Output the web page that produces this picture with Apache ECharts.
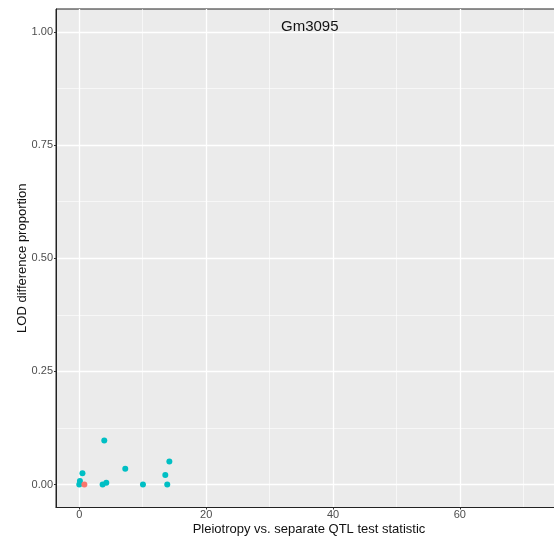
<!DOCTYPE html>
<html>
<head>
<meta charset="utf-8">
<script src="https://cdn.jsdelivr.net/npm/echarts@6/dist/echarts.min.js"></script>
<style>
  html, body { margin: 0; padding: 0; background: #fff; }
  #main { width: 554px; height: 537px; }
</style>
</head>
<body>
<div id="main"></div>
<script>
// points
var cyanX = [3.94, 14.2, 7.25, 0.5, 13.56, 0.1, 4.26, 3.68, 0.0, 10.04, 13.87];
var cyanY = [0.097, 0.051, 0.035, 0.025, 0.021, 0.008, 0.004, 0.0, 0.0, 0.0, 0.0];
var redX = [0.8];
var redY = [0.0];

var xMajor = [0, 20, 40, 60];
var xMinor = [10, 30, 50, 70];
var yMajor = [0, 0.25, 0.5, 0.75, 1];
var yMinor = [0.125, 0.375, 0.625, 0.875];

var titleText = 'Gm3095';

function pairs(xs, ys) {
    var out = [];
    for (var i = 0; i < xs.length; i++) out.push([xs[i], ys[i]]);
    return out;
}

var myChart = echarts.init(document.getElementById('main'));
var labelStyle = { color: '#4D4D4D', fontSize: 11, fontFamily: 'Liberation Sans' };

var option = {
    animation: false,
    backgroundColor: '#fff',
    grid: {
        left: 56, right: -8, top: 9, bottom: 29.5,
        outerBoundsMode: 'none', containLabel: false,
        show: true, backgroundColor: '#EBEBEB', borderColor: '#222', borderWidth: 1
    },
    graphic: [{
        type: 'text', left: 281, top: 19, z: 100,
        style: { text: titleText, fontSize: 15, fill: '#111', fontFamily: 'Liberation Sans' }
    }],
    xAxis: [{
        type: 'value', min: -3.67, max: 76.1,
        name: 'Pleiotropy vs. separate QTL test statistic',
        nameLocation: 'middle', nameGap: 15, nameMoveOverlap: false,
        nameTextStyle: { color: '#111', fontSize: 13, fontFamily: 'Liberation Sans' },
        axisLine: { show: true, onZero: false, lineStyle: { color: '#222', width: 1 } },
        axisTick: { show: true, length: 2, customValues: xMajor, lineStyle: { color: '#333' } },
        axisLabel: Object.assign({ customValues: xMajor, margin: 2 }, labelStyle),
        splitLine: { show: true, lineStyle: { color: '#fff', width: 1.3 } }
    }, {
        type: 'value', min: -3.67, max: 76.1, position: 'top',
        axisLine: { show: false },
        axisTick: { show: false, customValues: xMinor },
        axisLabel: { show: false, customValues: xMinor },
        splitLine: { show: true, lineStyle: { color: '#fff', width: 0.6 } }
    }],
    yAxis: [{
        type: 'value', min: -0.0508, max: 1.0508,
        name: 'LOD difference proportion',
        nameLocation: 'middle', nameGap: 27, nameRotate: 90, nameMoveOverlap: false,
        nameTextStyle: { color: '#111', fontSize: 13, fontFamily: 'Liberation Sans' },
        axisLine: { show: true, onZero: false, lineStyle: { color: '#222', width: 1 } },
        axisTick: { show: true, length: 2, customValues: yMajor, lineStyle: { color: '#333' } },
        axisLabel: Object.assign({
            customValues: yMajor, margin: 3,
            formatter: function (v) { return v.toFixed(2); }
        }, labelStyle),
        splitLine: { show: true, lineStyle: { color: '#fff', width: 1.3 } }
    }, {
        type: 'value', min: -0.0508, max: 1.0508, position: 'right',
        axisLine: { show: false },
        axisTick: { show: false, customValues: yMinor },
        axisLabel: { show: false, customValues: yMinor },
        splitLine: { show: true, lineStyle: { color: '#fff', width: 0.6 } }
    }],
    series: [{
        type: 'scatter', symbolSize: 6, z: 3,
        itemStyle: { color: '#00BFC4', opacity: 1 },
        data: pairs(cyanX, cyanY)
    }, {
        type: 'scatter', symbolSize: 6, z: 4,
        itemStyle: { color: '#F8766D', opacity: 1 },
        data: pairs(redX, redY)
    }]
};
myChart.setOption(option);
</script>
</body>
</html>
